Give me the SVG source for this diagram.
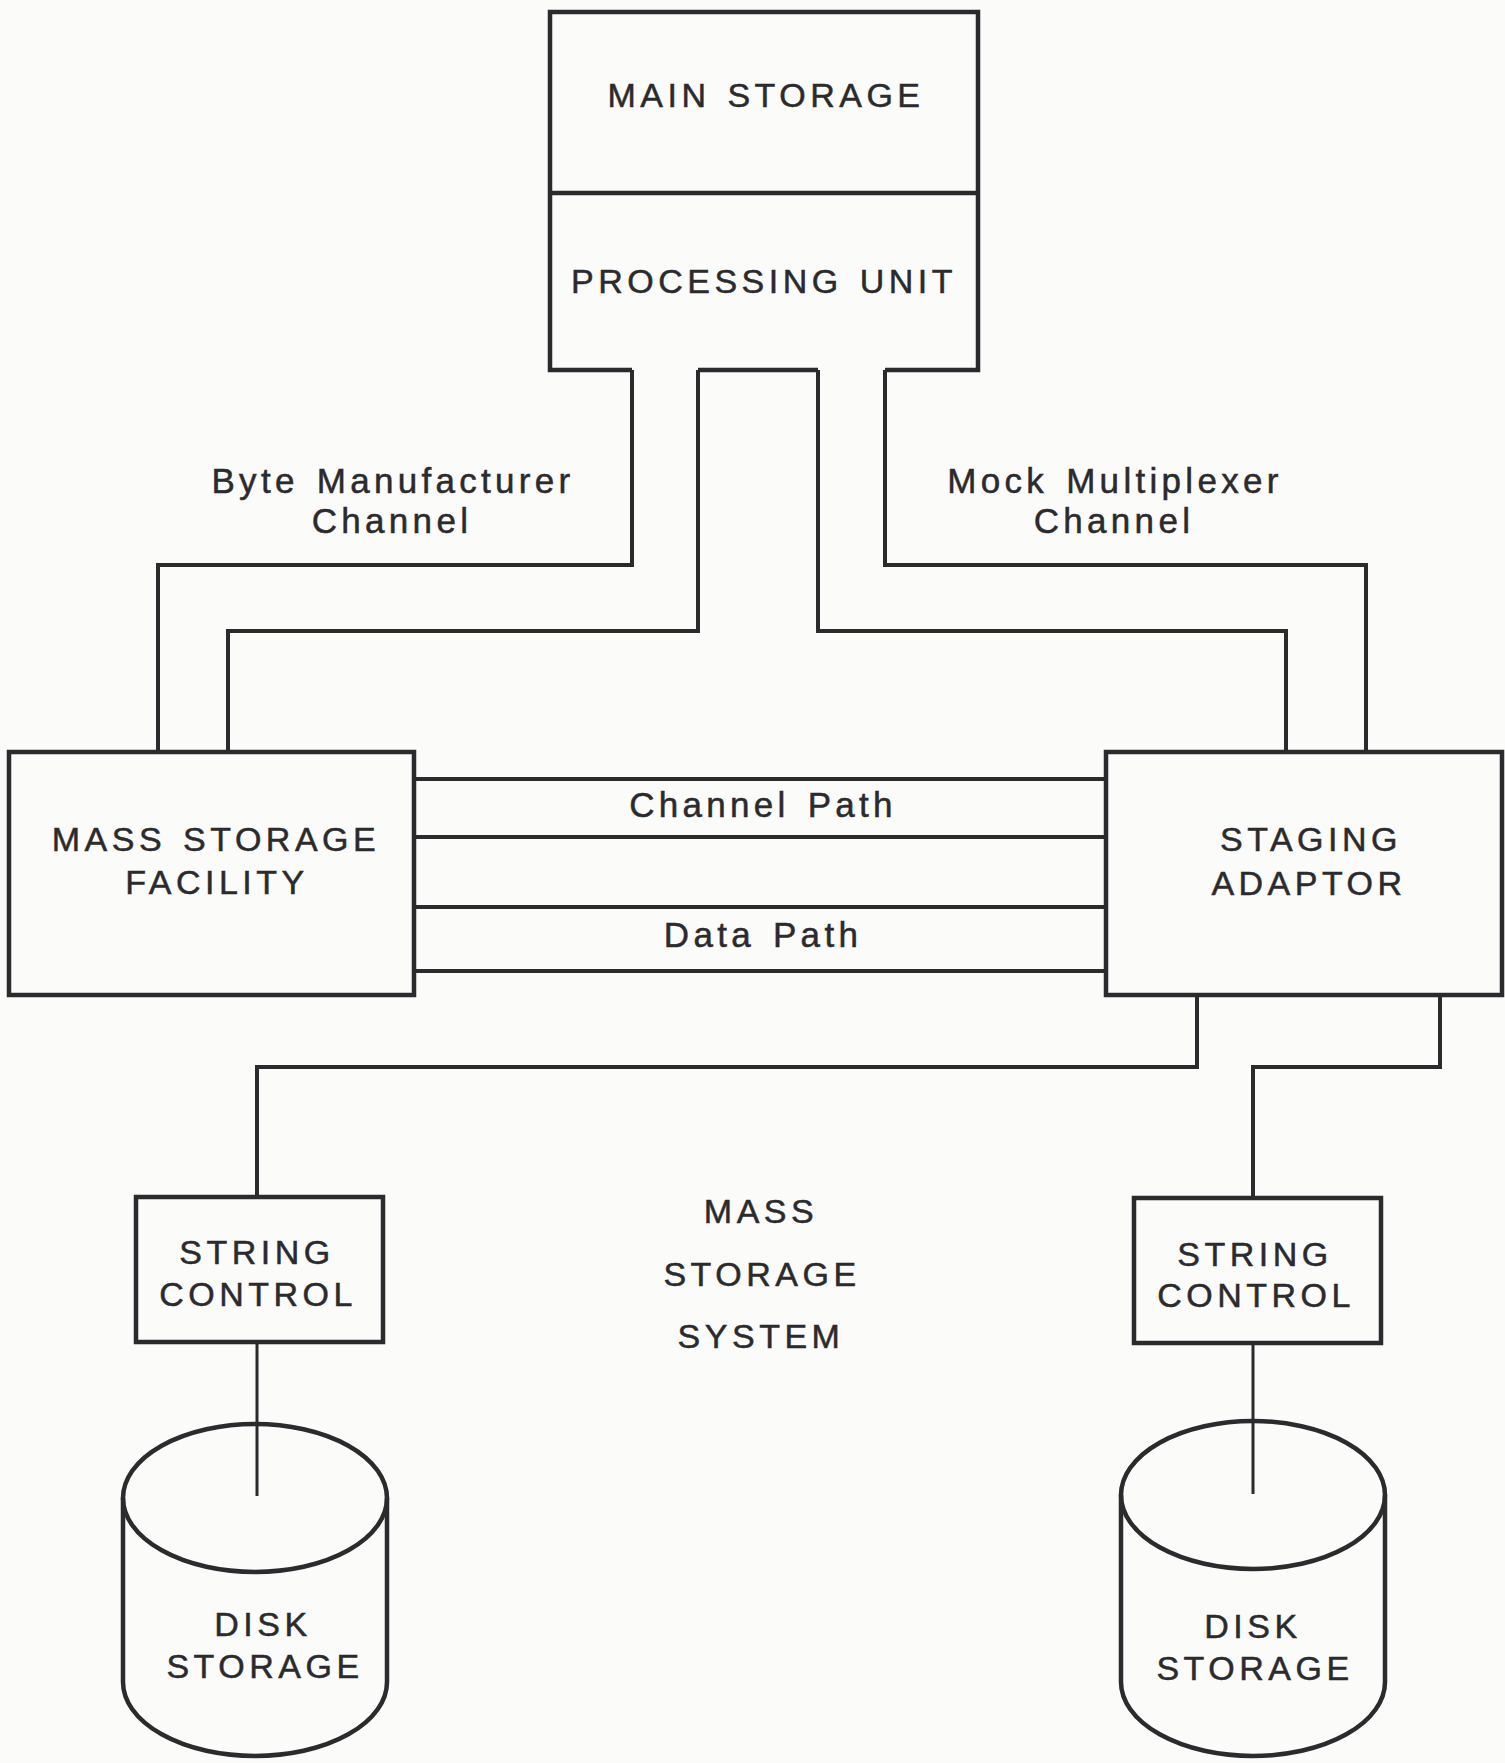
<svg xmlns="http://www.w3.org/2000/svg" width="1505" height="1763" viewBox="0 0 1505 1763">
<style>
.bg{fill:#fbfbfa}
.box{fill:none;stroke:#2b2a2c;stroke-width:4.5;stroke-linejoin:miter}
.wire{fill:none;stroke:#2b2a2c;stroke-width:4;stroke-linejoin:miter}
.thin{fill:none;stroke:#2b2a2c;stroke-width:3}
text{font-family:"Liberation Sans",Arial,sans-serif;fill:#2b2a2c;stroke:#2b2a2c;stroke-width:0.5;text-anchor:middle}
.up{font-size:34px;letter-spacing:4.5px;word-spacing:3px}
.lo{font-size:35px;letter-spacing:4.3px;word-spacing:4px}
</style>
<rect class="bg" x="0" y="0" width="1505" height="1763"/>

<g id="connectors">
  <polyline class="wire" points="632,370 632,565 158,565 158,752"/>
  <polyline class="wire" points="698,370 698,631 228,631 228,752"/>
  <polyline class="wire" points="818,370 818,631 1286,631 1286,752"/>
  <polyline class="wire" points="885,370 885,565 1366,565 1366,752"/>
  <line class="wire" x1="414" y1="779" x2="1106" y2="779"/>
  <line class="wire" x1="414" y1="837" x2="1106" y2="837"/>
  <line class="wire" x1="414" y1="907" x2="1106" y2="907"/>
  <line class="wire" x1="414" y1="971" x2="1106" y2="971"/>
  <polyline class="wire" points="1197,995 1197,1067 257,1067 257,1197"/>
  <polyline class="wire" points="1440,995 1440,1067 1253,1067 1253,1198"/>
  <line class="thin" x1="257" y1="1342" x2="257" y2="1496"/>
  <line class="thin" x1="1253" y1="1343" x2="1253" y2="1494"/>
</g>

<g id="main-storage-processing-unit">
  <path class="box" d="M632,370 H550 V12 H978 V370 H885"/>
  <line class="box" x1="698" y1="370" x2="818" y2="370"/>
  <line class="box" x1="550" y1="193" x2="978" y2="193"/>
  <text class="up" x="766" y="107">MAIN STORAGE</text>
  <text class="up" x="764" y="293">PROCESSING UNIT</text>
</g>

<g id="label-byte">
  <text class="lo" x="393" y="493">Byte Manufacturer</text>
  <text class="lo" x="392" y="533">Channel</text>
</g>
<g id="label-mock">
  <text class="lo" x="1115" y="493">Mock Multiplexer</text>
  <text class="lo" x="1114" y="533">Channel</text>
</g>

<g id="mass-storage-facility">
  <rect class="box" x="9" y="752" width="405" height="243"/>
  <text class="up" x="216" y="851">MASS STORAGE</text>
  <text class="up" x="217" y="894">FACILITY</text>
</g>

<g id="path-labels">
  <text class="lo" x="763" y="817">Channel Path</text>
  <text class="lo" x="763" y="947">Data Path</text>
</g>

<g id="staging-adaptor">
  <rect class="box" x="1106" y="752" width="396" height="243"/>
  <text class="up" x="1311" y="851">STAGING</text>
  <text class="up" x="1309" y="895">ADAPTOR</text>
</g>

<g id="string-control-left">
  <rect class="box" x="136" y="1197" width="247" height="145"/>
  <text class="up" x="257" y="1264">STRING</text>
  <text class="up" x="258" y="1306">CONTROL</text>
</g>

<g id="string-control-right">
  <rect class="box" x="1134" y="1198" width="247" height="145"/>
  <text class="up" x="1255" y="1266">STRING</text>
  <text class="up" x="1256" y="1307">CONTROL</text>
</g>

<g id="system-label">
  <text class="up" x="761" y="1223">MASS</text>
  <text class="up" x="762" y="1286">STORAGE</text>
  <text class="up" x="761" y="1348">SYSTEM</text>
</g>

<g id="disk-storage-left">
  <path class="box" d="M123,1498 V1682 A132,74 0 0 0 387,1682 V1498"/>
  <ellipse class="box" cx="255" cy="1498" rx="132" ry="74"/>
  <text class="up" x="263" y="1636">DISK</text>
  <text class="up" x="265" y="1678">STORAGE</text>
</g>

<g id="disk-storage-right">
  <path class="box" d="M1121,1495 V1682 A132,74 0 0 0 1385,1682 V1495"/>
  <ellipse class="box" cx="1253" cy="1495" rx="132" ry="74"/>
  <text class="up" x="1253" y="1638">DISK</text>
  <text class="up" x="1255" y="1680">STORAGE</text>
</g>
</svg>
